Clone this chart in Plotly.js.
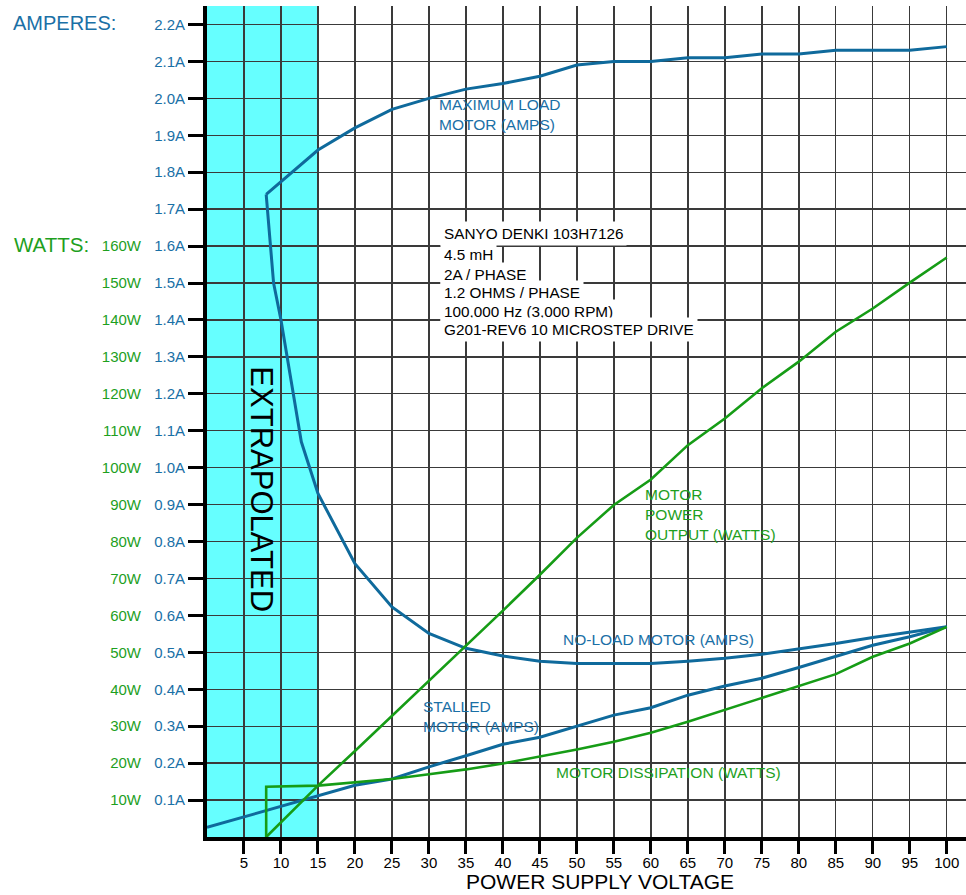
<!DOCTYPE html>
<html>
<head>
<meta charset="utf-8">
<script src="https://cdn.plot.ly/plotly-3.0.1.min.js"></script>
<style>html,body{margin:0;padding:0;background:#fff;}#chart{width:966px;height:895px;}</style>
</head>
<body>
<div id="chart"></div>
<script>
// ---- data ----
const voltsMax = [8, 15, 20, 25, 30, 35, 40, 45, 50, 55, 60, 65, 70, 75, 80, 85, 90, 95, 100];
const ampsMax  = [1.74, 1.86, 1.92, 1.97, 2.00, 2.025, 2.04, 2.06, 2.09, 2.10, 2.10, 2.11, 2.11, 2.12, 2.12, 2.13, 2.13, 2.13, 2.14];

const voltsNoLoad = [8, 9, 10, 12.75, 15, 20, 25, 30, 35, 40, 45, 50, 55, 60, 65, 70, 75, 80, 85, 90, 95, 100];
const ampsNoLoad  = [1.74, 1.50, 1.40, 1.07, 0.93, 0.74, 0.623, 0.551, 0.511, 0.49, 0.476, 0.47, 0.47, 0.47, 0.476, 0.484, 0.495, 0.509, 0.524, 0.54, 0.554, 0.569];

const voltsStall = [0, 15, 20, 25, 30, 35, 40, 45, 50, 55, 60, 65, 70, 75, 80, 85, 90, 95, 100];
const ampsStall  = [0.026, 0.11, 0.14, 0.157, 0.19, 0.22, 0.251, 0.27, 0.30, 0.33, 0.35, 0.384, 0.409, 0.43, 0.459, 0.49, 0.519, 0.542, 0.569];

const voltsOut = [8, 15, 20, 25, 30, 35, 40, 45, 50, 55, 60, 65, 70, 75, 80, 85, 90, 95, 100];
const wattsOut = [0, 13.9, 23.3, 32.8, 42.2, 51.6, 61.3, 71, 81, 89.9, 96.8, 106.1, 113.3, 121.5, 128.7, 136.8, 143.1, 150.1, 156.9];

const voltsDiss = [8, 8, 15, 20, 25, 30, 35, 40, 45, 50, 55, 60, 65, 70, 75, 80, 85, 90, 95, 100];
const wattsDiss = [0, 13.6, 13.9, 14.9, 15.7, 17.0, 18.3, 19.9, 21.7, 23.7, 25.8, 28.2, 31.2, 34.4, 37.5, 40.7, 44.1, 48.8, 52.4, 56.9];

const voltTicks = [5, 10, 15, 20, 25, 30, 35, 40, 45, 50, 55, 60, 65, 70, 75, 80, 85, 90, 95, 100];
const ampTicks  = [0.1, 0.2, 0.3, 0.4, 0.5, 0.6, 0.7, 0.8, 0.9, 1.0, 1.1, 1.2, 1.3, 1.4, 1.5, 1.6, 1.7, 1.8, 1.9, 2.0, 2.1, 2.2];
const ampLabels = ["0.1A","0.2A","0.3A","0.4A","0.5A","0.6A","0.7A","0.8A","0.9A","1.0A","1.1A","1.2A","1.3A","1.4A","1.5A","1.6A","1.7A","1.8A","1.9A","2.0A","2.1A","2.2A"];
const wattTicks  = [10, 20, 30, 40, 50, 60, 70, 80, 90, 100, 110, 120, 130, 140, 150, 160];
const wattLabels = ["10W","20W","30W","40W","50W","60W","70W","80W","90W","100W","110W","120W","130W","140W","150W","160W"];

const extrapolatedRange = [0, 15];
const infoLines = ["SANYO DENKI 103H7126", "4.5 mH", "2A / PHASE", "1.2 OHMS / PHASE", "100,000 Hz (3,000 RPM)", "G201-REV6 10 MICROSTEP DRIVE"];

// ---- styles ----
const FONT = "Liberation Sans, Arial, Helvetica, sans-serif";
const BLUE_LINE = "#0f6a9c", BLUE_TEXT = "#1a70a6";
const GREEN_LINE = "#169c16", GREEN_TEXT = "#1ea01e";

const traces = [
  {x: voltsMax, y: ampsMax, yaxis: "y", mode: "lines", line: {color: BLUE_LINE, width: 3}},
  {x: voltsNoLoad, y: ampsNoLoad, yaxis: "y", mode: "lines", line: {color: BLUE_LINE, width: 3}},
  {x: voltsStall, y: ampsStall, yaxis: "y", mode: "lines", line: {color: BLUE_LINE, width: 3}},
  {x: voltsOut, y: wattsOut, yaxis: "y2", mode: "lines", line: {color: GREEN_LINE, width: 2.6}},
  {x: voltsDiss, y: wattsDiss, yaxis: "y2", mode: "lines", line: {color: GREEN_LINE, width: 2.6}}
];

function lbl(text, x, y, color, opts) {
  return Object.assign({text: text, x: x, y: y, xref: "x", yref: "y", xanchor: "left", yanchor: "middle", align: "left",
    showarrow: false, font: {family: FONT, size: 15.5, color: color}}, opts || {});
}

const infoY = [1.634, 1.576, 1.524, 1.475, 1.424, 1.374];
const annotations = [
  {text: "AMPERES:", xref: "paper", x: -0.258, xanchor: "left", yref: "y", y: 2.205, yanchor: "middle", showarrow: false,
   font: {family: FONT, size: 20, color: BLUE_TEXT}},
  {text: "WATTS:", xref: "paper", x: -0.257, xanchor: "left", yref: "y2", y: 160.5, yanchor: "middle", showarrow: false,
   font: {family: FONT, size: 20.5, color: GREEN_TEXT}},
  {text: "POWER SUPPLY VOLTAGE", xref: "x", x: 53.1, xanchor: "center", yref: "paper", y: -0.0698, yanchor: "bottom", showarrow: false,
   font: {family: FONT, size: 21, color: "#000"}},
  {text: "EXTRAPOLATED", xref: "x", x: 7.4, yref: "y", y: 0.942, xanchor: "center", yanchor: "middle", textangle: 90, showarrow: false,
   font: {family: FONT, size: 31, color: "#000"}},
  lbl("MAXIMUM LOAD<br>MOTOR (AMPS)", 31.07, 1.955, BLUE_TEXT),
  lbl("NO-LOAD MOTOR (AMPS)", 47.9, 0.536, BLUE_TEXT),
  lbl("STALLED<br>MOTOR (AMPS)", 28.9, 0.3255, BLUE_TEXT),
  lbl("MOTOR<br>POWER<br>OUTPUT (WATTS)", 59.0, 0.873, GREEN_TEXT),
  lbl("MOTOR DISSIPATION (WATTS)", 46.9, 0.174, GREEN_TEXT)
];
infoLines.forEach((t, i) => {
  annotations.push(lbl(t, 31.5, infoY[i], "#000", {bgcolor: "#fff", borderpad: 3, font: {family: FONT, size: 15.3, color: "#000"}}));
});

const layout = {
  width: 966, height: 895,
  margin: {l: 207, r: 0, t: 6, b: 58, pad: 0},
  paper_bgcolor: "#fff", plot_bgcolor: "#fff",
  showlegend: false, hovermode: false,
  font: {family: FONT},
  xaxis: {
    range: [0, 102.6], tickvals: voltTicks, ticktext: voltTicks.map(String),
    ticks: "outside", ticklen: 13, tickwidth: 3, tickcolor: "#000",
    ticklabelstandoff: -4,
    showline: true, linewidth: 4, linecolor: "#000",
    showgrid: true, gridcolor: "#3a3a3a", gridwidth: 1.4, zeroline: false,
    tickfont: {family: FONT, size: 15, color: "#000"}, fixedrange: true
  },
  yaxis: {
    range: [0, 2.25], tickvals: ampTicks, ticktext: ampLabels,
    ticks: "outside", ticklen: 15, tickwidth: 3, tickcolor: "#000",
    showline: true, linewidth: 4, linecolor: "#000",
    showgrid: true, gridcolor: "#3a3a3a", gridwidth: 1.4, zeroline: false,
    tickfont: {family: FONT, size: 15, color: BLUE_TEXT}, fixedrange: true
  },
  yaxis2: {
    range: [0, 225], overlaying: "y", side: "left", anchor: "free", position: 0,
    tickvals: wattTicks, ticktext: wattLabels,
    ticks: "outside", ticklen: 63, tickwidth: 1, tickcolor: "rgba(0,0,0,0)",
    showline: false, showgrid: false, zeroline: false,
    tickfont: {family: FONT, size: 15, color: GREEN_TEXT}, fixedrange: true
  },
  shapes: [
    {type: "rect", xref: "x", yref: "paper", x0: extrapolatedRange[0], x1: extrapolatedRange[1], y0: 0, y1: 1,
     fillcolor: "#66ffff", line: {width: 0}, layer: "below"}
  ],
  annotations: annotations
};

Plotly.newPlot("chart", traces, layout, {staticPlot: true, displayModeBar: false});
</script>
</body>
</html>
